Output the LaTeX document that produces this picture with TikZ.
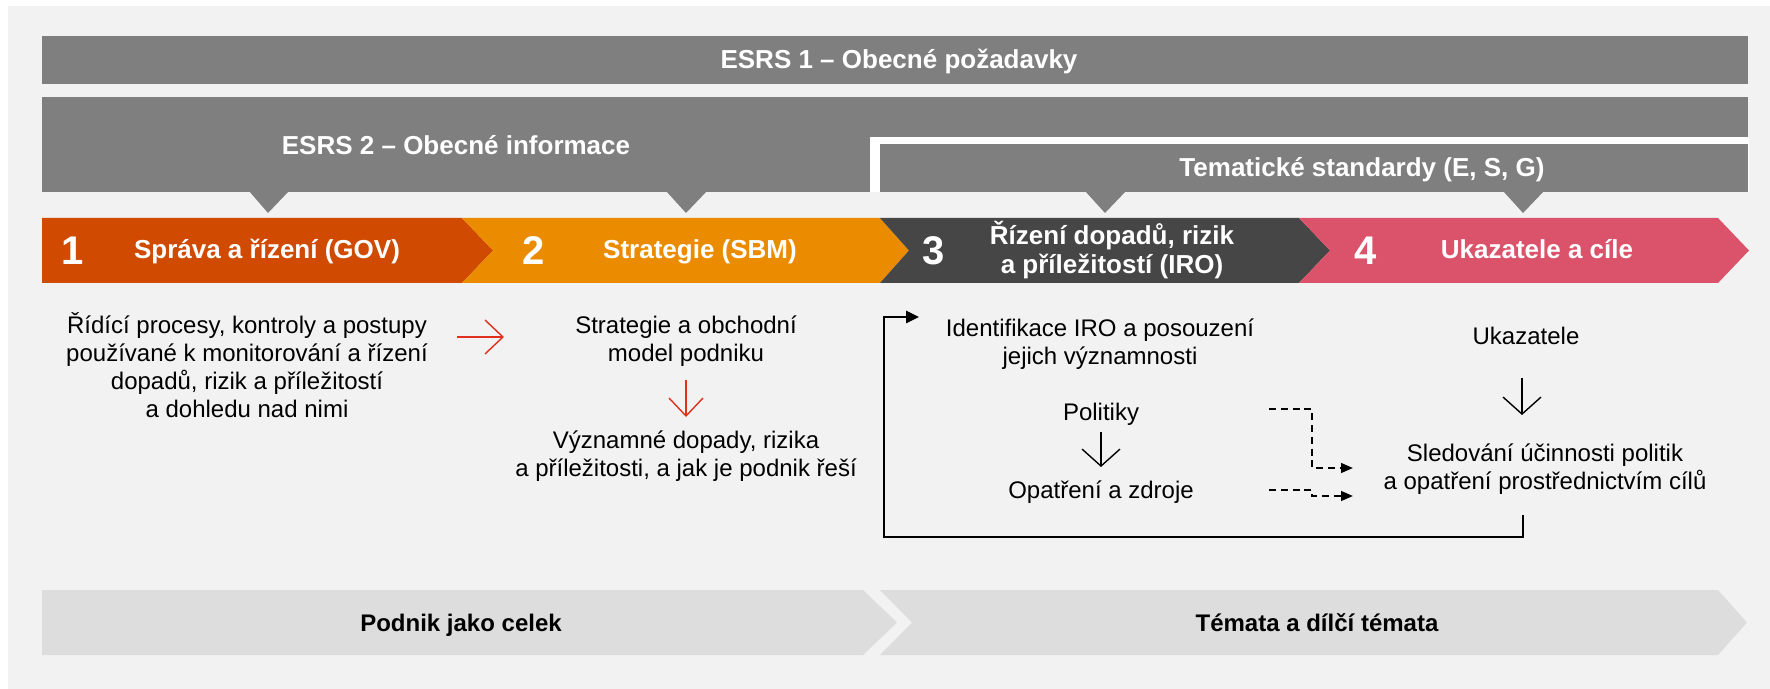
\documentclass[tikz,border=0pt]{standalone}
\usepackage{fontspec}
\setmainfont{Liberation Sans}
\usetikzlibrary{arrows.meta}
\definecolor{cBg}{HTML}{F2F2F2}
\definecolor{cBar}{HTML}{7F7F7F}
\definecolor{cGov}{HTML}{D04A02}
\definecolor{cSbm}{HTML}{EB8C00}
\definecolor{cIro}{HTML}{464646}
\definecolor{cMt}{HTML}{DB536A}
\definecolor{cBot}{HTML}{DDDDDD}
\definecolor{cRed}{HTML}{E0301E}
\begin{document}
\begin{tikzpicture}[x=0.5pt,y=-0.5pt,
  hdr/.style={text=white, font=\fontsize{13}{15.6}\selectfont\bfseries, anchor=base, inner sep=0pt},
  ttl/.style={text=white, font=\fontsize{13}{14.5}\selectfont\bfseries, align=center, inner sep=0pt},
  numtxt/.style={text=white, font=\fontsize{20}{24}\selectfont\bfseries, anchor=base, inner sep=0pt},
  body/.style={text=black, font=\fontsize{12}{14}\selectfont, align=center, inner sep=0pt},
  bodyb/.style={text=black, font=\fontsize{12}{14}\selectfont, anchor=base, inner sep=0pt},
  bot/.style={text=black, font=\fontsize{12}{14}\selectfont\bfseries, anchor=base, inner sep=0pt},
  redarr/.style={draw=cRed, line width=0.7pt, -{Straight Barb[length=9pt,width=17pt]}},
  blkarr/.style={draw=black, line width=0.7pt, -{Straight Barb[length=8.5pt,width=19pt]}},
  fbline/.style={draw=black, line width=1.3pt, -{Triangle[length=6.5pt,width=6pt]}},
  dasharr/.style={draw=black, line width=1.2pt, dash pattern=on 3.5pt off 2.4pt, -{Triangle[length=6pt,width=4.8pt]}}
]
\useasboundingbox (0,0) rectangle (1770,689);
\fill[white] (0,0) rectangle (1770,689);
\fill[cBg] (8,6) rectangle (1770,689);

% ESRS 1
\fill[cBar] (42,36) rectangle (1748,84);
\node[hdr] (esrs1) at (899,69) {ESRS 1 – Obecné požadavky};

% ESRS 2 and thematic standards
\fill[cBar] (42,97) rectangle (1748,192);
\fill[white] (870,137) rectangle (1749,192);
\fill[cBar] (880,144) rectangle (1748,192);
\fill[cBar] (249,191) -- (289,191) -- (268,213) -- cycle;
\fill[cBar] (666,191) -- (707,191) -- (686,213) -- cycle;
\fill[cBar] (1085,191) -- (1126,191) -- (1105,213) -- cycle;
\fill[cBar] (1503,191) -- (1544,191) -- (1523,213) -- cycle;
\node[hdr] (esrs2) at (456,155) {ESRS 2 – Obecné informace};
\node[hdr] (tema) at (1362,177) {Tematické standardy (E, S, G)};

% chevrons
\fill[cGov] (42,218) -- (462,218) -- (493,250.5) -- (462,283) -- (42,283) -- cycle;
\fill[cSbm] (462,218) -- (880,218) -- (909,250.5) -- (880,283) -- (462,283) -- (493,250.5) -- cycle;
\fill[cIro] (880,218) -- (1299,218) -- (1330,250.5) -- (1299,283) -- (880,283) -- (909,250.5) -- cycle;
\fill[cMt] (1299,218) -- (1718,218) -- (1749,250.5) -- (1718,283) -- (1299,283) -- (1330,250.5) -- cycle;
\node[numtxt] (n1) at (73,265) {1};
\node[numtxt] (n2) at (534,265) {2};
\node[numtxt] (n3) at (934,265) {3};
\node[numtxt] (n4) at (1366,265) {4};
\node[hdr] (tgov) at (267,259) {Správa a řízení (GOV)};
\node[hdr] (tsbm) at (700,259) {Strategie (SBM)};
\node[ttl] (tiro) at (1112,250.5) {Řízení dopadů, rizik\\a příležitostí (IRO)};
\node[hdr] (tmt) at (1537,259) {Ukazatele a cíle};

% column 1 and 2
\node[body] (gov) at (247,365) {Řídící procesy, kontroly a postupy\\používané k monitorování a řízení\\dopadů, rizik a příležitostí\\a dohledu nad nimi};
\node[body] (sbm) at (686,341.5) {Strategie a obchodní\\model podniku};
\node[body] (sig) at (686,456) {Významné dopady, rizika\\a příležitosti, a jak je podnik řeší};
\coordinate (ra1) at (457,337);
\coordinate (ra2) at (504,337);
\draw[redarr] (ra1) -- (ra2);
\coordinate (rd1) at (686,380);
\coordinate (rd2) at (686,417);
\draw[redarr] (rd1) -- (rd2);

% column 3 and 4
\node[body] (ident) at (1100,344) {Identifikace IRO a posouzení\\jejich významnosti};
\node[bodyb] (pol) at (1101,420) {Politiky};
\node[bodyb] (opat) at (1101,498) {Opatření a zdroje};
\node[bodyb] (ukaz) at (1526,344) {Ukazatele};
\node[body] (sled) at (1545,469) {Sledování účinnosti politik\\a opatření prostřednictvím cílů};
\coordinate (bd1) at (1101,432);
\coordinate (bd2) at (1101,467);
\draw[blkarr] (bd1) -- (bd2);
\coordinate (bu1) at (1522,378);
\coordinate (bu2) at (1522,415);
\draw[blkarr] (bu1) -- (bu2);

% feedback loop
\coordinate (fbS) at (1523,515);
\coordinate (fbC) at (884,537);
\coordinate (fbE) at (919,317);
\draw[fbline] (fbS) |- (fbC) |- (fbE);

% dashed connectors
\coordinate (d1s) at (1269,409);
\coordinate (d1k) at (1312,468);
\coordinate (d1e) at (1353,468);
\draw[dasharr] (d1s) -| (d1k) -- (d1e);
\coordinate (d2s) at (1269,490);
\coordinate (d2k) at (1312,496);
\coordinate (d2e) at (1353,496);
\draw[dasharr] (d2s) -| (d2k) -- (d2e);

% bottom arrows
\fill[cBot] (42,590) -- (863,590) -- (897,622.5) -- (863,655) -- (42,655) -- cycle;
\fill[cBot] (880,590) -- (1718,590) -- (1747,622.5) -- (1718,655) -- (880,655) -- (912,622.5) -- cycle;
\node[bot] (celek) at (461,631) {Podnik jako celek};
\node[bot] (temata) at (1317,631) {Témata a dílčí témata};
\end{tikzpicture}
\end{document}
